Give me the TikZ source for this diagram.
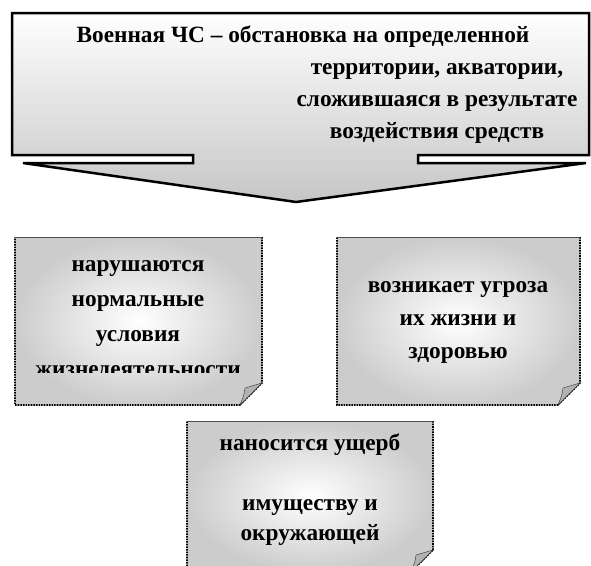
\documentclass[tikz,border=0pt]{standalone}
\usepackage{fontspec}
\setmainfont{Liberation Serif}
\usetikzlibrary{positioning}
\tikzset{
  txt/.style={font=\bfseries\fontsize{23.3}{32}\selectfont, align=center, inner sep=0pt},
  notefill/.style={inner color=white, outer color=gray!40},
  noteedge/.style={line width=1.6pt, densely dotted},
}

\begin{document}
\begin{tikzpicture}[x=1pt, y=-1pt]
  \useasboundingbox (0,0) rectangle (591,565);

  % callout arrow
  \draw[line width=2.5pt, top color=white, bottom color=gray!45]
    (12,13) -- (589,13) -- (589,155) -- (418,155) -- (418,163) -- (586,163)
    -- (296,202) -- (23,163) -- (193,163) -- (193,155) -- (12,155) -- cycle;
  \node[txt] (title) at (437,85)
    {Военная ЧС – обстановка на определенной\hspace*{268pt}\\
     территории, акватории,\\
     сложившаяся в результате\\
     воздействия средств};

  % notes
  \foreach \xa/\ya/\xb/\yb in {15/237/262/405, 337/237/580/405, 187/421/433/572} {
    \fill[notefill] (\xa,\ya) -- (\xb,\ya) -- (\xb,\yb-22) -- (\xb-22,\yb) -- (\xa,\yb) -- cycle;
    \draw[noteedge] (\xb,\ya) -- (\xb,\yb-22) -- (\xb-22,\yb) -- (\xa,\yb) -- (\xa,\ya);
    \draw[thick, gray!60!black] (\xa,\ya) -- (\xb,\ya);
    \filldraw[fill=gray!60, draw=gray!40!black, thin]
      (\xb-22,\yb) .. controls (\xb-18,\yb-10) .. (\xb-17,\yb-17) -- (\xb,\yb-22) -- cycle;
  }

  \begin{scope}
    \clip (15,237) rectangle (262,372);
    \node[txt, font=\bfseries\fontsize{23.3}{35}\selectfont] (broken) at (138,321)
      {нарушаются\\ нормальные\\ условия\\ жизнедеятельности};
  \end{scope}
  \node[txt, font=\bfseries\fontsize{23.3}{33}\selectfont] (threat) at (458,322)
    {возникает угроза\\ их жизни и\\ здоровью};
  \node[txt, font=\bfseries\fontsize{23.3}{30}\selectfont] (damage) at (310,490)
    {наносится ущерб\\[30pt] имуществу и\\ окружающей};
\end{tikzpicture}
\end{document}
